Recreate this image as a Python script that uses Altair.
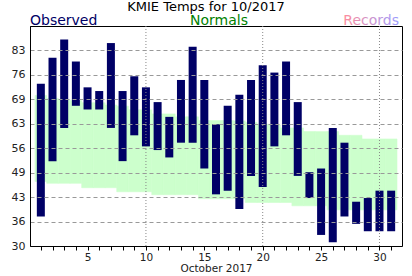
import altair as alt
import pandas as pd

days = list(range(1, 32))
obs_high = [74, 81, 86, 80, 73, 72, 85, 72, 76, 73, 69, 65, 75, 84, 75, 63,
            68, 71, 75, 79, 77, 80, 69, 50, 51, 62, 58, 42, 43, 45, 45]
obs_low = [38, 53, 62, 68, 67, 67, 62, 53, 60, 57, 56, 54, 58, 58, 51, 44,
           45, 40, 49, 46, 57, 60, 49, 43, 33, 31, 38, 36, 34, 34, 34]
norm_high = [70.8, 70.0, 69.7, 69.4, 68.8, 68.8, 68.2, 67.9, 66.9, 66.9, 65.8,
             65.8, 65.0, 65.0, 64.0, 64.0, 64.0, 63.9, 63.5, 63.0, 62.8, 62.0,
             62.0, 61.0, 61.0, 61.0, 60.0, 60.0, 59.0, 59.0, 59.0]
norm_low = [47.5, 47.0, 47.0, 47.0, 45.8, 45.8, 45.8, 44.7, 44.7, 44.7, 43.9,
            43.9, 43.9, 43.9, 42.8, 42.8, 42.8, 42.8, 41.8, 41.8, 41.8, 41.8,
            40.9, 40.9, 40.9, 39.8, 39.8, 39.8, 39.8, 39.8, 39.8]

y_ticks = [30, 36.625, 43.25, 49.875, 56.5, 63.125, 69.75, 76.375, 83.0]
y_domain = [30, 89.625]
x_domain = [0.5, 31.5]
grid_days = [10, 20, 30]

df = pd.DataFrame({"day": days, "hi": obs_high, "lo": obs_low,
                   "nhi": norm_high, "nlo": norm_low})

FONT = "DejaVu Sans"

x_scale = alt.Scale(domain=x_domain, nice=False, zero=False)
y_scale = alt.Scale(domain=y_domain, nice=False, zero=False)

x_axis = alt.Axis(
    values=days, title="October 2017", titleFontSize=10.5, titleFontWeight="normal",
    titleColor="#222", titlePadding=1,
    labelExpr="datum.value % 5 == 0 ? datum.value : ''", labelFontSize=10.5,
    labelColor="#222", labelPadding=2, tickSize=4, tickColor="black",
    domainColor="black", grid=False, labelOverlap=False, labelFlush=False,
    zindex=1,
)
y_axis = alt.Axis(
    values=y_ticks, title=None, labelExpr="floor(datum.value)", labelFontSize=11,
    labelColor="#222", labelPadding=5, ticks=False, domainColor="black",
    grid=True, gridColor="#999", gridDash=[4, 3], zindex=1,
    labelOverlap=False, labelFlush=False,
)

base = alt.Chart(df)

band = base.transform_calculate(
    x0="datum.day - 0.5", x1="datum.day + 0.5"
).mark_rect(color="#ccffcc", stroke="#ccffcc", strokeWidth=0.6).encode(
    x=alt.X("x0:Q", scale=x_scale, axis=x_axis),
    x2="x1:Q",
    y=alt.Y("nlo:Q", scale=y_scale, axis=y_axis),
    y2="nhi:Q",
)

bars = base.mark_bar(color="#000066", size=8).encode(
    x=alt.X("day:Q", scale=x_scale, axis=x_axis),
    y=alt.Y("lo:Q", scale=y_scale, axis=y_axis),
    y2="hi:Q",
)

vgrid = alt.Chart(pd.DataFrame({"g": grid_days})).mark_rule(
    color="#888", strokeDash=[1, 2], strokeWidth=1
).encode(x=alt.X("g:Q", scale=x_scale, axis=x_axis))

t_title = alt.Chart(pd.DataFrame({"t": ["KMIE Temps for 10/2017"]})).mark_text(
    align="center", baseline="alphabetic", fontSize=13, color="black"
).encode(text="t:N", x=alt.value(176), y=alt.value(-15))

t_obs = alt.Chart(pd.DataFrame({"t": ["Observed"]})).mark_text(
    align="left", baseline="alphabetic", fontSize=14, color="#000066"
).encode(text="t:N", x=alt.value(0), y=alt.value(-1))

t_norm = alt.Chart(pd.DataFrame({"t": ["Normals"]})).mark_text(
    align="center", baseline="alphabetic", fontSize=14, color="#008000"
).encode(text="t:N", x=alt.value(189), y=alt.value(-1))

t_rec = alt.Chart(pd.DataFrame({"t": ["Records"]})).mark_text(
    align="right", baseline="alphabetic", fontSize=14,
    color=alt.LinearGradient(
        gradient="linear", x1=0, x2=1, y1=0, y2=0,
        stops=[alt.GradientStop(color="#ff8c9c", offset=0),
               alt.GradientStop(color="#9c9cff", offset=1)],
    ),
).encode(text="t:N", x=alt.value(369), y=alt.value(-1))

chart = alt.layer(band, bars, vgrid, t_title, t_obs, t_norm, t_rec).properties(
    width=372, height=220,
    autosize=alt.AutoSizeParams(type="none"),
    padding={"left": 30, "top": 26, "right": 10, "bottom": 30},
).configure(font=FONT, background="white").configure_view(
    stroke="black", strokeWidth=1
)

chart.save("out.html", embed_options={"renderer": "svg", "actions": False})
